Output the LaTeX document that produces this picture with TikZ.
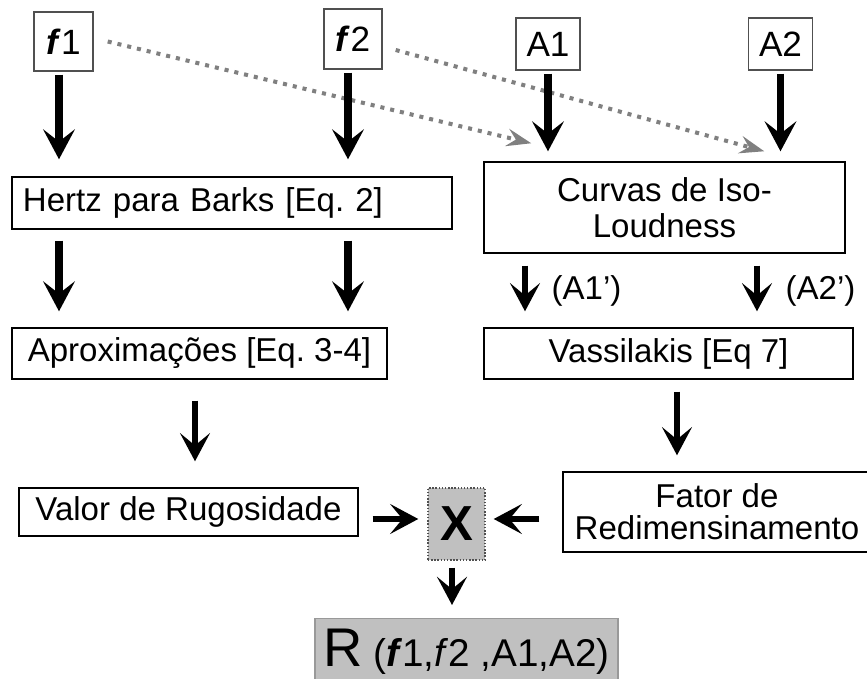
\documentclass[tikz,border=0pt]{standalone}
\usepackage{fontspec}
\setmainfont{Liberation Sans}
\usepackage{xcolor}
\usetikzlibrary{arrows.meta,positioning}
\definecolor{rgGray}{HTML}{808080}
\definecolor{rgFill}{HTML}{C0C0C0}
\definecolor{rgEdge}{HTML}{505050}
\definecolor{rgLine}{HTML}{999999}
\newcommand{\fbi}{\textbf{\textit{f}}}
\newcommand{\rgsize}{\fontsize{18.8}{22}\selectfont}
\frenchspacing

\begin{document}
\begin{tikzpicture}[x=1cm,y=1cm,
  rgbox/.style={draw,line width=0.8pt,inner sep=0pt,font=\rgsize},
  inbox/.style={rgbox,draw=rgEdge,font=\fontsize{20}{24}\selectfont},
  bigarr/.style={line width=4.2pt,-{Stealth[length=17pt,width=18pt,inset=7pt]}},
  arr/.style={line width=3pt,-{Stealth[length=16pt,width=17pt,inset=7pt]}},
  dotarr/.style={rgGray,line width=2.3pt,dash pattern=on 2.3pt off 3.4pt,
    -{Stealth[length=14pt,width=10pt,inset=5pt]}}]
  \useasboundingbox (0,0) rectangle (17.34,-13.58);
  \node[inbox,minimum width=1.18cm,minimum height=1.18cm] (f1) at (1.27,-0.83) {\fbi1};
  \node[inbox,minimum width=1.16cm,minimum height=1.2cm] (f2) at (7.06,-0.78) {\fbi2};
  \node[inbox,minimum width=1.28cm,minimum height=1.04cm] (a1) at (10.96,-0.88) {A1};
  \node[inbox,minimum width=1.28cm,minimum height=1.04cm] (a2) at (15.61,-0.88) {A2};
  \node[rgbox,minimum height=1.04cm,text width=8.36cm,align=left,inner xsep=0.22cm]
    (hertz) at (4.64,-4.06) {Hertz para Barks [Eq. 2]};
  \node[rgbox,minimum width=7.22cm,minimum height=1.82cm,align=center,
    font=\fontsize{18.8}{20.5}\selectfont] (iso) at (13.29,-4.15) {Curvas de Iso-\\Loudness};
  \node[rgbox,minimum width=7.5cm,minimum height=1.02cm] (aprox) at (3.99,-7.07) {Aproximações [Eq. 3-4]};
  \node[rgbox,minimum width=7.38cm,minimum height=1.02cm] (vass) at (13.37,-7.07) {Vassilakis [Eq 7]};
  \node[rgbox,minimum width=6.78cm,minimum height=0.96cm] (valor) at (3.77,-10.24) {Valor de Rugosidade};
  \node[rgbox,minimum width=6.16cm,minimum height=1.6cm,align=center,
    font=\fontsize{18.8}{18.2}\selectfont] (fator) at (14.34,-10.24) {Fator de\\Redimensinamento};
  \node[draw=rgEdge,densely dotted,fill=rgFill,line width=0.8pt,minimum width=1.14cm,
    minimum height=1.44cm,inner sep=0pt,font=\bfseries\fontsize{28}{30}\selectfont]
    (x) at (9.13,-10.48) {X};
  \node[draw=rgLine,fill=rgFill,line width=0.8pt,minimum width=6.06cm,inner sep=0pt,
    text height=0.96cm,text depth=0.68cm,anchor=north] (r) at (9.33,-12.36)
    {\fontsize{31}{34}\selectfont R\hspace{0.2em}\fontsize{22}{24}\selectfont(\fbi1,\textit{f}2 ,A1,A2)};
  \draw[dotarr] ([xshift=0.28cm]f1.east) -- ([shift={(0.96,0.36)}]iso.north west);
  \draw[dotarr] ([shift={(0.26,-0.22)}]f2.east) -- ([shift={(5.62,0.2)}]iso.north west);
  \coordinate (col1) at ([xshift=-0.09cm]f1.south);
  \coordinate (col2) at ([xshift=-0.1cm]f2.south);
  \foreach \c in {col1,col2}{
    \draw[bigarr,shorten <=0.06cm,shorten >=0.34cm] (\c) -- (\c |- hertz.north);
    \draw[bigarr,shorten <=0.22cm,shorten >=0.32cm] (\c |- hertz.south) -- (\c |- aprox.north);
  }
  \foreach \a in {a1,a2}{\draw[bigarr,shorten <=0.06cm,shorten >=0.2cm] (\a.south) -- (\a.south |- iso.north);}
  \coordinate (p1) at ([xshift=-2.79cm]iso.south);
  \coordinate (p2) at ([xshift=1.85cm]iso.south);
  \draw[arr,shorten <=0.24cm,shorten >=0.32cm] (p1) -- (p1 |- vass.north)
    node[midway,right=0.48cm,inner sep=0pt,font=\rgsize] {(A1’)};
  \draw[arr,shorten <=0.24cm,shorten >=0.32cm] (p2) -- (p2 |- vass.north)
    node[midway,right=0.52cm,inner sep=0pt,font=\rgsize] {(A2’)};
  \coordinate (p3) at ([xshift=-0.09cm]aprox.south);
  \draw[arr,shorten <=0.42cm,shorten >=0.52cm] (p3) -- (p3 |- valor.north);
  \coordinate (p4) at ([xshift=0.17cm]vass.south);
  \draw[arr,shorten <=0.24cm,shorten >=0.32cm] (p4) -- (p4 |- fator.north);
  \coordinate (h) at ([yshift=0.1cm]x.west);
  \draw[arr,shorten <=0.28cm,shorten >=0.18cm] (h -| valor.east) -- (h);
  \draw[arr,shorten <=0.46cm,shorten >=0.16cm] (h -| fator.west) -- (h -| x.east);
  \coordinate (p5) at ([xshift=-0.09cm]x.south);
  \draw[arr,shorten <=0.14cm,shorten >=0.26cm] (p5) -- (p5 |- r.north);
\end{tikzpicture}
\end{document}
